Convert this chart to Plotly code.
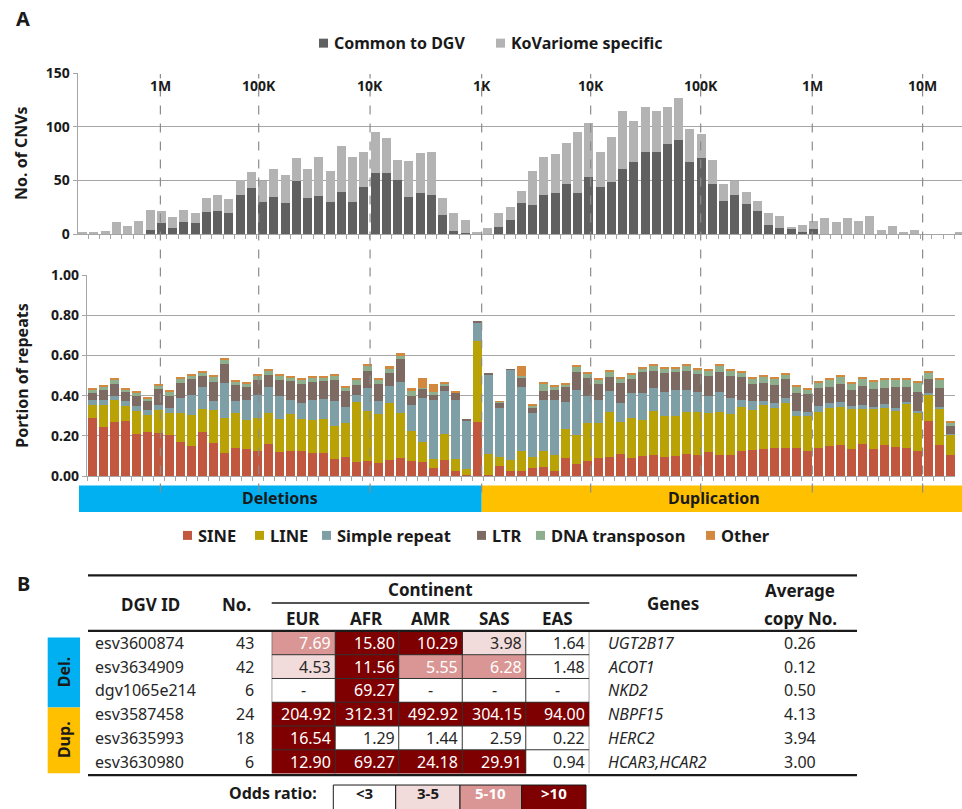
import plotly.graph_objects as go

FONT = "Noto Sans, Open Sans, DejaVu Sans, sans-serif"
W, H = 962, 809

# vertical calibration of page positions (pixel row -> paper fraction)
Y_SCALE = 0.978
Y_OFFSET = 8.8


def px_x(x):
    return x / W


def px_y(y):
    return 1 - ((y - Y_OFFSET) / Y_SCALE) / H


# ---------------------------------------------------------------- data (A)
# 79 CNV size bins: 36 deletion bins (large -> small), then 43 duplication bins (small -> large)
size_bins = list(range(79))

common_dgv = [0, 0, 0, 0, 0, 0, 4, 10, 6, 11, 10, 21, 22, 20, 37, 43, 30, 35, 29, 50,
              34, 36, 30, 39, 30, 44, 57, 57, 51, 35, 38, 37, 18, 3, 1, 0,
              0, 7, 13, 29, 27, 37, 38, 47, 38, 53, 44, 49, 61, 67, 77, 77, 84, 88, 67, 71,
              47, 31, 37, 28, 22, 9, 6, 5, 2, 5, 0, 0, 0, 0, 0, 0, 0, 0, 0, 0, 0, 0, 0]
kovariome_specific = [1, 2, 3, 11, 8, 12, 19, 12, 10, 12, 10, 13, 15, 13, 14, 15, 20, 26, 26, 21,
                      27, 36, 29, 43, 42, 33, 38, 33, 18, 33, 38, 40, 16, 17, 12, 2,
                      6, 13, 12, 11, 32, 35, 37, 38, 57, 51, 33, 42, 54, 39, 42, 38, 35, 39, 31, 22,
                      22, 16, 13, 11, 9, 11, 11, 2, 7, 7, 15, 11, 15, 12, 17, 4, 8, 2, 4, 0, 0, 0, 1]

# repeat composition per bin (portion of CNV sequence)
sine = [.290, .243, .268, .275, .210, .222, .215, .205, .169, .152, .222, .164, .113, .142, .137, .127,
        .159, .119, .127, .123, .113, .113, .084, .093, .071, .075, .065, .081, .091, .075, .070, .043,
        .081, .026, .007, .268,
        .005, .050, .028, .028, .040, .045, .028, .091, .060, .075, .091, .096, .111, .091, .101, .106,
        .096, .101, .111, .106, .121, .106, .106, .127, .131, .137, .142, .142, .142, .123, .142, .152,
        .157, .137, .162, .137, .157, .144, .142, .123, .275, .157, .106]
line = [.063, .110, .109, .073, .113, .083, .116, .110, .146, .153, .114, .167, .177, .171, .143, .161,
        .156, .166, .184, .162, .167, .172, .168, .170, .297, .250, .245, .282, .224, .150, .099, .041,
        .129, .057, .029, .404,
        .106, .043, .053, .095, .056, .079, .078, .146, .145, .188, .174, .225, .157, .197, .179, .217,
        .204, .199, .209, .214, .194, .214, .204, .219, .200, .219, .199, .221, .158, .175, .178, .189,
        .189, .199, .174, .196, .184, .181, .216, .192, .127, .176, .099]
simple_repeat = [.028, .024, .023, .024, .028, .026, .025, .026, .072, .099, .109, .045, .175, .059, .101, .118,
                 .130, .112, .068, .078, .099, .099, .120, .083, .036, .114, .062, .087, .155, .131, .218, .295,
                 .212, .298, .242, .093,
                 .394, .248, .447, .322, .217, .257, .275, .131, .222, .134, .116, .103, .095, .124, .132, .116,
                 .121, .127, .107, .097, .085, .101, .077, .035, .045, .016, .025, .028, .025, .020, .029, .022,
                 .022, .013, .020, .013, .017, .016, .010, .010, .010, .010, .005]
ltr = [.031, .052, .059, .045, .048, .042, .078, .060, .078, .081, .055, .094, .091, .083, .063, .074,
       .060, .083, .093, .096, .091, .090, .108, .076, .050, .084, .087, .062, .113, .041, .050, .025,
       .028, .036, .002, .002,
       .008, .025, .003, .042, .030, .043, .046, .074, .093, .093, .078, .068, .102, .070, .105, .084,
       .091, .090, .098, .090, .097, .099, .113, .111, .084, .093, .089, .092, .087, .091, .090, .082,
       .092, .078, .094, .088, .081, .103, .077, .094, .073, .094, .040]
dna_transposon = [.017, .018, .019, .013, .015, .014, .016, .018, .018, .017, .017, .023, .022, .017, .016, .020,
                  .018, .020, .016, .021, .020, .018, .020, .020, .026, .027, .021, .021, .017, .028, .003, .013,
                  .009, .001, .000, .000,
                  .000, .006, .000, .013, .007, .036, .018, .013, .023, .022, .021, .026, .018, .021, .019, .025,
                  .024, .019, .023, .023, .026, .031, .025, .023, .027, .030, .028, .024, .032, .023, .028, .037,
                  .035, .035, .033, .036, .041, .036, .037, .045, .030, .045, .018]
other = [.005, .005, .007, .004, .005, .005, .005, .006, .007, .008, .006, .009, .006, .006, .005, .007,
         .008, .007, .005, .007, .007, .008, .007, .007, .008, .008, .007, .013, .013, .014, .047, .043,
         .006, .002, .000, .000,
         .000, .001, .000, .046, .004, .009, .010, .005, .007, .006, .005, .007, .007, .007, .007, .005,
         .005, .005, .007, .005, .005, .007, .006, .005, .005, .007, .007, .006, .005, .005, .007, .006,
         .007, .007, .007, .007, .007, .005, .005, .006, .007, .005, .007]

count_series = [
    ("Common to DGV", common_dgv, "#606060"),
    ("KoVariome specific", kovariome_specific, "#B3B3B3"),
]
repeat_series = [
    ("SINE", sine, "#C0573E"),
    ("LINE", line, "#B9A205"),
    ("Simple repeat", simple_repeat, "#7F9FA6"),
    ("LTR", ltr, "#7D6B63"),
    ("DNA transposon", dna_transposon, "#8DAF8D"),
    ("Other", other, "#D38840"),
]

# size marks drawn along the top of the count panel (bin coordinates)
size_marks = ["1M", "100K", "10K", "1K", "10K", "100K", "1M", "10M"]
size_mark_pos = [6.92, 15.66, 25.56, 35.48, 45.17, 54.95, 64.87, 74.68]

# ---------------------------------------------------------------- data (B)
dgv_ids = ["esv3600874", "esv3634909", "dgv1065e214", "esv3587458", "esv3635993", "esv3630980"]
cnv_counts = [43, 42, 6, 24, 18, 6]
continents = ["EUR", "AFR", "AMR", "SAS", "EAS"]
odds_ratio = [
    [7.69, 15.80, 10.29, 3.98, 1.64],
    [4.53, 11.56, 5.55, 6.28, 1.48],
    [None, 69.27, None, None, None],
    [204.92, 312.31, 492.92, 304.15, 94.00],
    [16.54, 1.29, 1.44, 2.59, 0.22],
    [12.90, 69.27, 24.18, 29.91, 0.94],
]
genes = ["UGT2B17", "ACOT1", "NKD2", "NBPF15", "HERC2", "HCAR3,HCAR2"]
avg_copy = [0.26, 0.12, 0.50, 4.13, 3.94, 3.00]
odds_classes = ["<3", "3-5", "5-10", ">10"]
odds_colors = ["#FFFFFF", "#F2DCDB", "#DA9694", "#7F0000"]


def odds_class(v):
    if v is None or v < 3:
        return 0
    if v < 5:
        return 1
    if v < 10:
        return 2
    return 3


GRID = "#A6A6A6"
INK = "#1a1a1a"
TICKFONT = dict(family=FONT, size=14, color=INK, weight="bold")

fig = go.Figure()

# ---------------------------------------------------------------- panel A, counts
for name, vals, col in count_series:
    fig.add_trace(go.Bar(x=size_bins, y=vals, name=name, marker_color=col, marker_line_width=0,
                         width=0.8, xaxis="x", yaxis="y", showlegend=False))

# ---------------------------------------------------------------- panel A, repeats
for name, vals, col in repeat_series:
    fig.add_trace(go.Bar(x=size_bins, y=vals, name=name, marker_color=col, marker_line_width=0,
                         width=0.77, xaxis="x2", yaxis="y2", showlegend=False))

# ---------------------------------------------------------------- panel B, odds-ratio cells
z = [[odds_class(v) for v in row] for row in odds_ratio]
scale = []
for k, c in enumerate(odds_colors):
    scale.append([k / 4, c])
    scale.append([(k + 1) / 4, c])
fig.add_trace(go.Heatmap(x=continents, y=dgv_ids, z=z, colorscale=scale, zmin=-0.5, zmax=3.5,
                         showscale=False, hoverinfo="skip", xaxis="x3", yaxis="y3"))

boundaries = [i - 0.5 for i in range(len(size_bins) + 1)]
fig.update_layout(
    width=W, height=H, margin=dict(l=0, r=0, t=0, b=0),
    paper_bgcolor="white", plot_bgcolor="white",
    barmode="stack", showlegend=False,
    font=dict(family=FONT, color=INK),
    xaxis=dict(domain=[px_x(77.7), 1.0], range=[-0.43, 78.18], showgrid=False, zeroline=False,
               showline=True, linecolor=GRID, linewidth=1.3, tickvals=boundaries, ticks="outside",
               ticklen=4, tickcolor=GRID, showticklabels=False, anchor="y"),
    yaxis=dict(domain=[px_y(233.3), px_y(72.3)], range=[0, 150], dtick=50, showgrid=True,
               gridcolor=GRID, gridwidth=1.3, zeroline=False, showline=True, linecolor=GRID,
               linewidth=1.3, ticks="outside", ticklen=4, tickcolor=GRID, tickfont=TICKFONT, anchor="x"),
    xaxis2=dict(domain=[px_x(87), px_x(955)], range=[-0.5, 78.41], showgrid=False, zeroline=False,
                showline=True, linecolor=GRID, linewidth=1.3, tickvals=boundaries, ticks="outside",
                ticklen=4, tickcolor=GRID, showticklabels=False, anchor="y2"),
    yaxis2=dict(domain=[px_y(475.7), px_y(274.3)], range=[0, 1.0], dtick=0.2, tickformat=".2f",
                showgrid=True, gridcolor=GRID, gridwidth=1.3, zeroline=False, showline=True,
                linecolor=GRID, linewidth=1.3, ticks="outside", ticklen=4, tickcolor=GRID,
                tickfont=TICKFONT, anchor="x2"),
    xaxis3=dict(domain=[px_x(271.7), px_x(589.3)], range=[-0.5, 4.5], visible=False, anchor="y3"),
    yaxis3=dict(domain=[px_y(773.5), px_y(630.7)], range=[5.5, -0.5], visible=False, anchor="x3"),
)

shapes = []
annotations = []


def text(x, y, s, size=15, bold=False, xanchor="center", color=INK, xref="paper", yref="paper",
         angle=0):
    annotations.append(dict(x=x, y=y, xref=xref, yref=yref, text=s, showarrow=False, xanchor=xanchor,
                            yanchor="middle", textangle=angle,
                            font=dict(family=FONT, size=size, color=color,
                                      weight="bold" if bold else "normal")))


def key_entry(text_left, y, label, color, size):
    shapes.append(dict(type="rect", xref="paper", yref="paper", x0=px_x(text_left - 13),
                       x1=px_x(text_left - 4), y0=px_y(y + 4.5), y1=px_y(y - 4.5),
                       fillcolor=color, line_width=0))
    text(px_x(text_left), px_y(y), label, size=size, bold=True, xanchor="left")


# panel letters and axis titles
text(px_x(23), px_y(17), "A", size=20, bold=True)
text(px_x(23), px_y(583), "B", size=20, bold=True)
text(px_x(21), px_y(152), "No. of CNVs", size=16, bold=True, angle=-90)
text(px_x(22), px_y(375), "Portion of repeats", size=16, bold=True, angle=-90)

# legends
for (name, _, col), left in zip(count_series, [332, 509]):
    key_entry(left, 42, name, col, 16)
for (name, _, col), left in zip(repeat_series, [196, 268, 335, 490, 549, 719]):
    key_entry(left, 535, name, col, 16.5)

# size boundaries: dashed lines through both panels, labels on top
for pos, lab in zip(size_mark_pos, size_marks):
    shapes.append(dict(type="line", xref="x", yref="paper", x0=pos, x1=pos, y0=px_y(492), y1=px_y(73),
                       line=dict(color="#8C8C8C", width=1.2, dash="dash"), layer="above"))
    text(pos, px_y(84), lab, size=14, bold=True, xref="x")

# deletion / duplication band
shapes.append(dict(type="rect", xref="paper", yref="paper", x0=px_x(79), x1=px_x(481.7),
                   y0=px_y(511.5), y1=px_y(485), fillcolor="#00B0F0", line_width=0, layer="below"))
shapes.append(dict(type="rect", xref="paper", yref="paper", x0=px_x(481.7), x1=1.0,
                   y0=px_y(511.5), y1=px_y(485), fillcolor="#FFC000", line_width=0, layer="below"))
text(px_x(280), px_y(498), "Deletions", size=16, bold=True)
text(px_x(714), px_y(498), "Duplication", size=16, bold=True)

# ---------------------------------------------------------------- table frame
for yy, x0, x1, w in [(575, 88, 857, 2.2), (630.7, 88, 857, 2.2), (775, 88, 857, 2.2),
                      (602.7, 271.7, 589.3, 1.6)]:
    shapes.append(dict(type="line", xref="paper", yref="paper", x0=px_x(x0), x1=px_x(x1),
                       y0=px_y(yy), y1=px_y(yy), line=dict(color=INK, width=w)))
# cell grid of the odds-ratio block
for c in range(len(continents) + 1):
    shapes.append(dict(type="line", xref="x3", yref="y3", x0=c - 0.5, x1=c - 0.5, y0=-0.5, y1=5.5,
                       line=dict(color="#333333", width=1)))
for r in range(1, len(dgv_ids)):
    shapes.append(dict(type="line", xref="x3", yref="y3", x0=-0.5, x1=4.5, y0=r - 0.5, y1=r - 0.5,
                       line=dict(color="#333333", width=1)))

# Del. / Dup. side labels
shapes.append(dict(type="rect", xref="paper", yref="paper", x0=px_x(47.7), x1=px_x(80),
                   y0=px_y(707.3), y1=px_y(637.3), fillcolor="#00B0F0", line_width=0))
shapes.append(dict(type="rect", xref="paper", yref="paper", x0=px_x(47.7), x1=px_x(80),
                   y0=px_y(773.3), y1=px_y(707.3), fillcolor="#FFC000", line_width=0))
text(px_x(64), px_y(672), "Del.", size=16, bold=True, angle=-90)
text(px_x(64), px_y(740), "Dup.", size=16, bold=True, angle=-90)

# headers
text(px_x(150), px_y(604), "DGV ID", size=17, bold=True)
text(px_x(236.7), px_y(604), "No.", size=17, bold=True)
text(px_x(430), px_y(589), "Continent", size=17, bold=True)
for c, name in enumerate(continents):
    text(c, px_y(618.3), name, size=17, bold=True, xref="x3")
text(px_x(673), px_y(603.3), "Genes", size=17, bold=True)
text(px_x(800), px_y(590), "Average", size=17, bold=True)
text(px_x(800), px_y(618.3), "copy No.", size=17, bold=True)

# rows
for r, gid in enumerate(dgv_ids):
    text(px_x(92.7), r, gid, size=16, xanchor="left", yref="y3", color="#262626")
    text(px_x(256), r, str(cnv_counts[r]), size=16, xanchor="right", yref="y3", color="#262626")
    for c, v in enumerate(odds_ratio[r]):
        k = odds_class(v)
        col = "#FFFFFF" if k >= 2 else "#262626"
        if v is None:
            text(c, r, "-", size=16, xref="x3", yref="y3", color=col)
        else:
            text(c + 0.47, r, f"{v:.2f}", size=16, xanchor="right", xref="x3", yref="y3", color=col)
    text(px_x(606), r, f"<i>{genes[r]}</i>", size=16, xanchor="left", yref="y3", color="#262626")
    text(px_x(800), r, f"{avg_copy[r]:.2f}", size=16, yref="y3", color="#262626")

# odds-ratio key
text(px_x(319), px_y(792.5), "Odds ratio:", size=16, bold=True, xanchor="right")
key_edges = [333.3, 395.7, 460, 521.7, 586]
for k, lab in enumerate(odds_classes):
    shapes.append(dict(type="rect", xref="paper", yref="paper", x0=px_x(key_edges[k]),
                       x1=px_x(key_edges[k + 1]), y0=px_y(812), y1=px_y(785),
                       fillcolor=odds_colors[k], line=dict(color=INK, width=1)))
    text(px_x((key_edges[k] + key_edges[k + 1]) / 2), px_y(793), lab, size=15, bold=True,
         color="#FFFFFF" if k >= 2 else INK)

fig.update_layout(shapes=shapes, annotations=annotations)
fig.write_html("out.html")
